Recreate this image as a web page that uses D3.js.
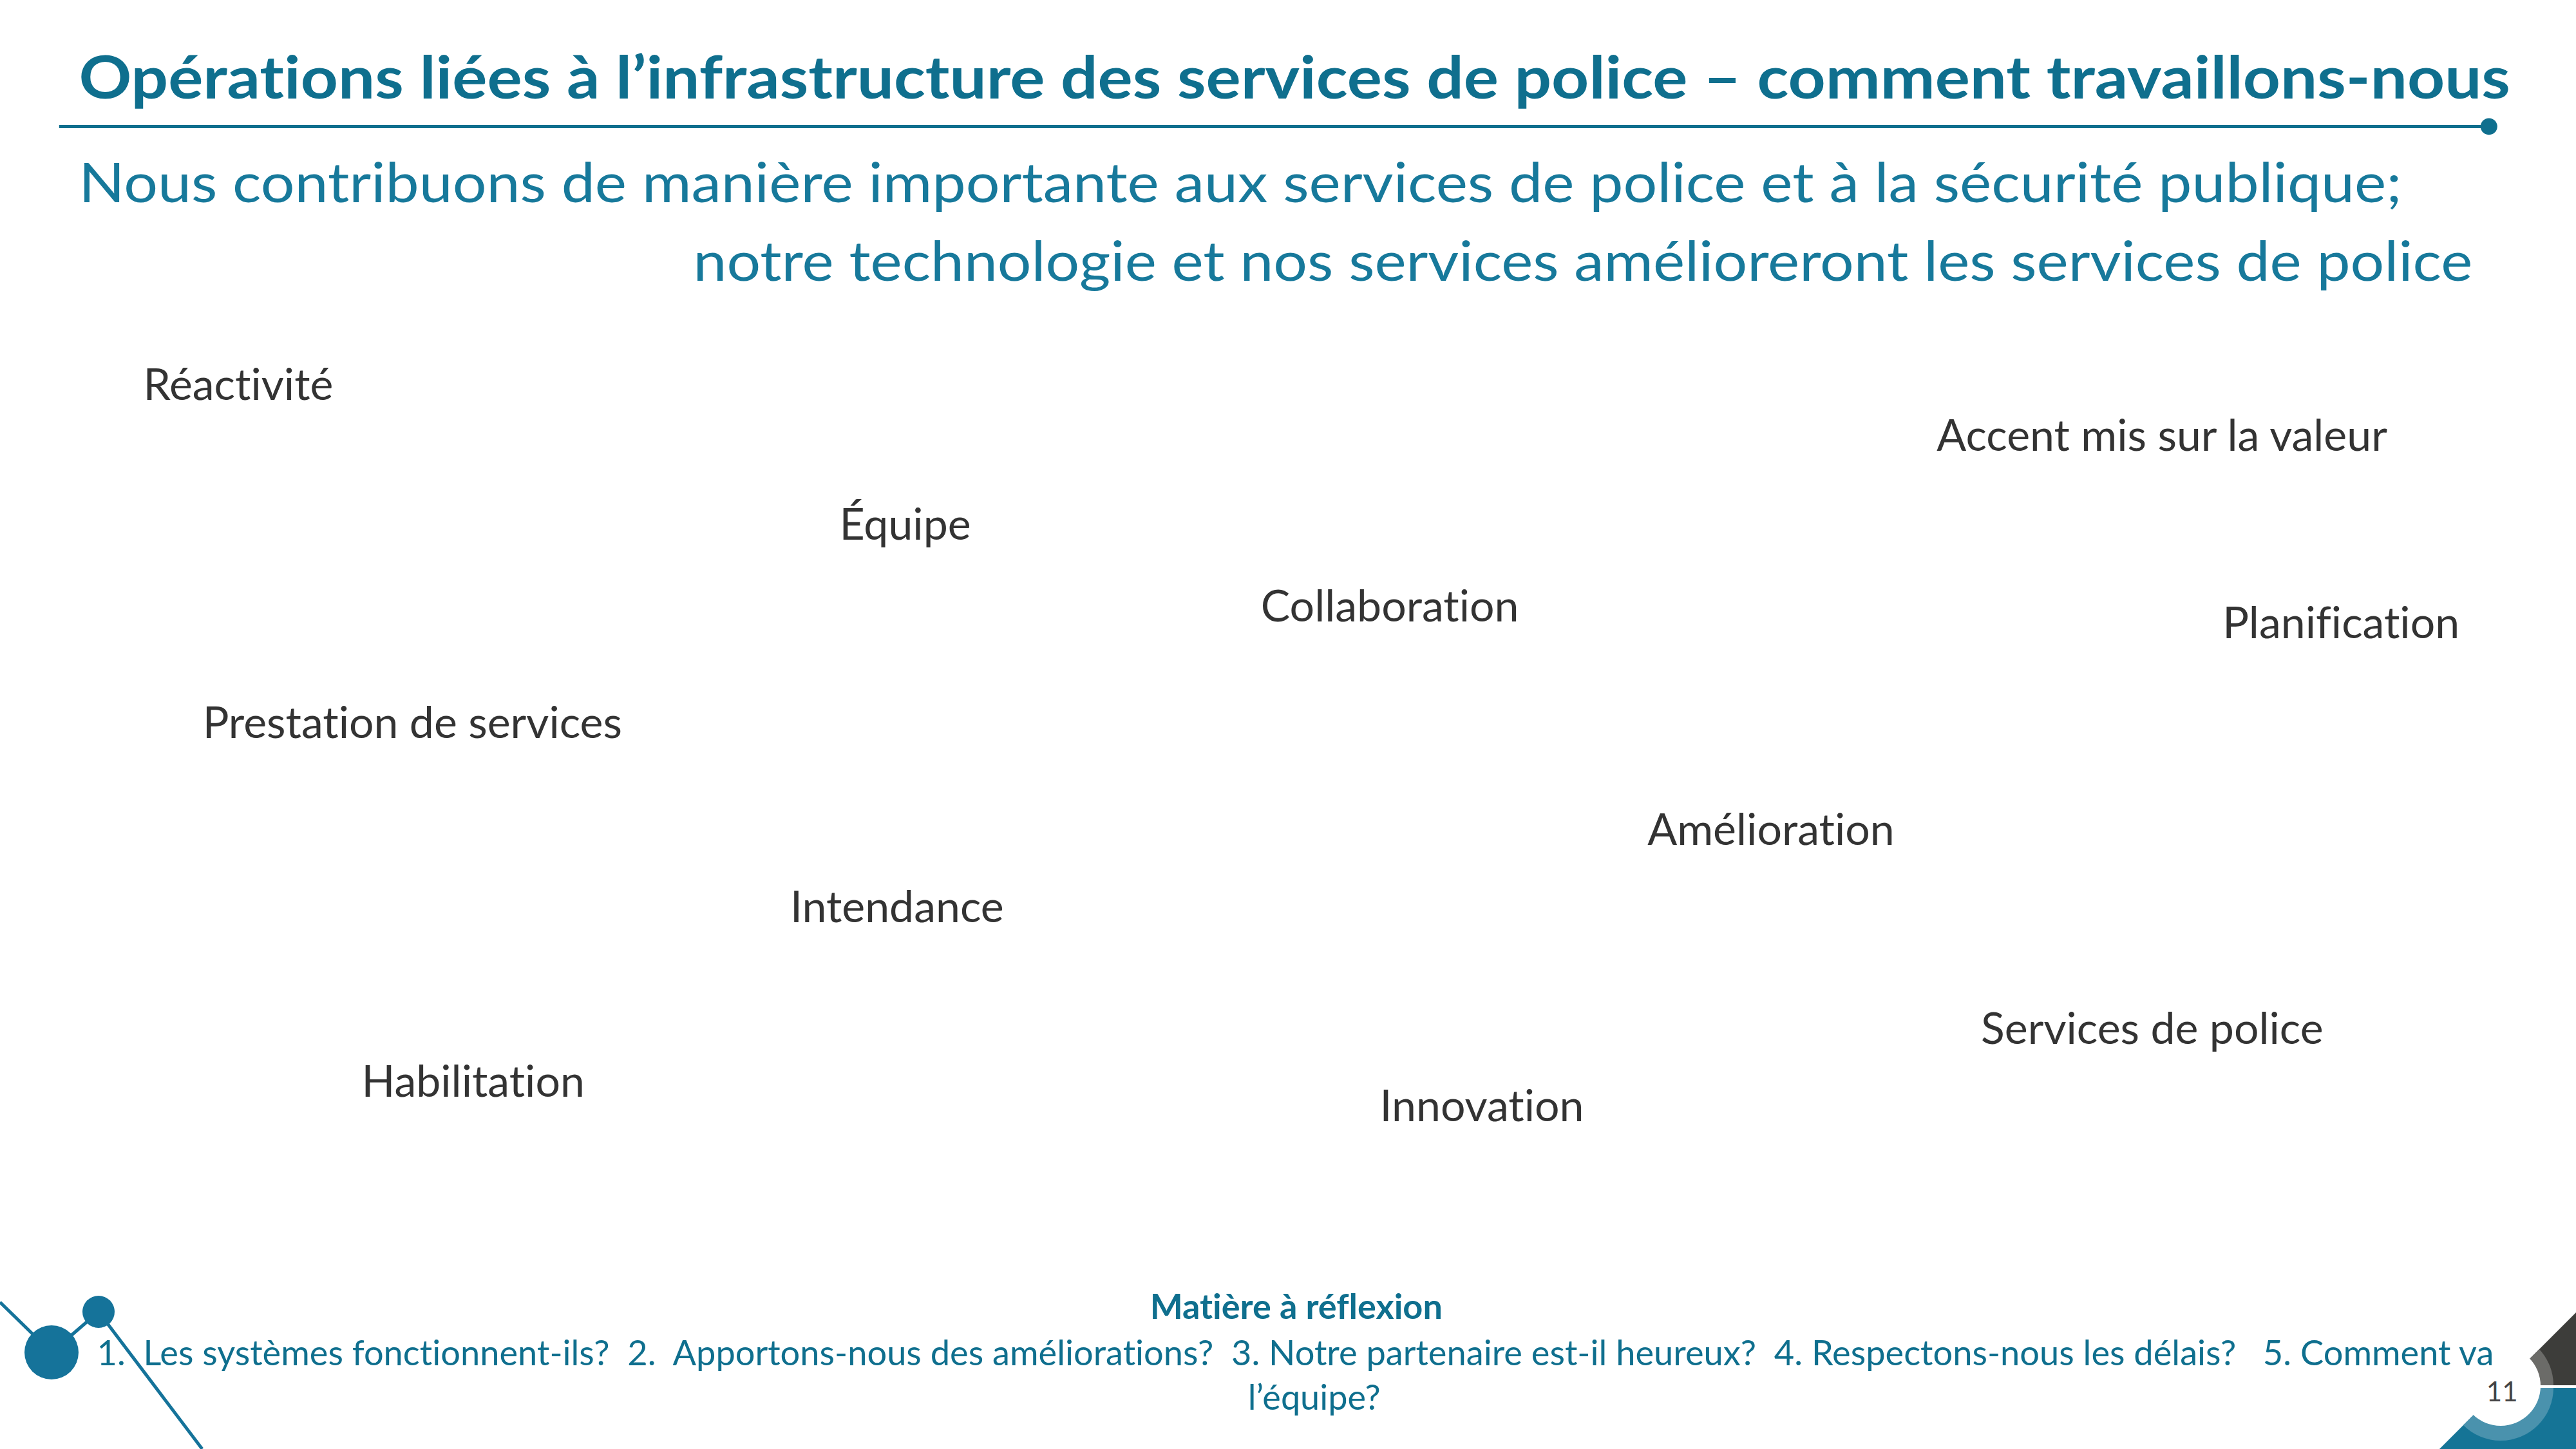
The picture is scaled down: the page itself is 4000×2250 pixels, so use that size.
<!DOCTYPE html>
<html><head><meta charset="utf-8">
<script src="https://cdn.jsdelivr.net/npm/d3@7"></script>
<style>body{margin:0;background:#fff}svg{display:block}text{white-space:pre;font-variant-ligatures:none}</style>
</head><body>
<svg id="chart" width="4000" height="2250"></svg>
<script>
// words of the cloud, positions (1568x882 units)
const words = ["Réactivité", "Accent mis sur la valeur", "Équipe", "Collaboration", "Planification",
    "Prestation de services", "Amélioration", "Intendance", "Services de police", "Habilitation", "Innovation"];
const wordX = [145, 1316, 551, 846, 1425, 251, 1078, 546, 1310, 288, 902];
const wordY = [233, 264, 318, 368, 378, 439, 504, 551, 625, 657, 672];

const title = "Opérations liées à l’infrastructure des services de police – comment travaillons-nous";
const subtitle = ["Nous contribuons de manière importante aux services de police et à la sécurité publique;",
    "notre technologie et nos services amélioreront les services de police"];
const footHead = "Matière à réflexion";
const footLines = ["1.  Les systèmes fonctionnent-ils?  2.  Apportons-nous des améliorations?  3. Notre partenaire est-il heureux?  4. Respectons-nous les délais?   5. Comment va",
    "l’équipe?"];

const svg = d3.select("#chart");
const x = d3.scaleLinear().domain([0, 1568]).range([0, 4000]);
const y = d3.scaleLinear().domain([0, 882]).range([0, 2250]);
const teal = "#0f6f8e", font = "Lato, 'Open Sans', sans-serif";

// header
svg.append("text").attr("x", x(48)).attr("y", y(60)).text(title)
    .attr("font-family", font).attr("font-weight", "bold").attr("font-size", 92).attr("fill", teal)
    .attr("textLength", x(1528) - x(48)).attr("lengthAdjust", "spacingAndGlyphs");
svg.append("line").attr("x1", x(36)).attr("x2", x(1515)).attr("y1", y(77)).attr("y2", y(77))
    .attr("stroke", teal).attr("stroke-width", 5);
svg.append("circle").attr("cx", x(1515)).attr("cy", y(77)).attr("r", 13).attr("fill", teal);
svg.append("text").attr("x", x(48)).attr("y", y(123)).text(subtitle[0])
    .attr("font-family", font).attr("font-size", 86).attr("fill", "#17799b")
    .attr("textLength", x(1462) - x(48)).attr("lengthAdjust", "spacingAndGlyphs");
svg.append("text").attr("x", x(422)).attr("y", y(171)).text(subtitle[1])
    .attr("font-family", font).attr("font-size", 86).attr("fill", "#17799b")
    .attr("textLength", x(1505) - x(422)).attr("lengthAdjust", "spacingAndGlyphs");

// word cloud
svg.selectAll("text.word").data(words).join("text").attr("class", "word")
    .attr("x", (d, i) => x(wordX[i])).attr("y", (d, i) => y(wordY[i]))
    .attr("text-anchor", "middle").attr("dominant-baseline", "central")
    .attr("font-family", font).attr("font-size", 68).attr("fill", "#333")
    .text(d => d);

// bottom-left ornament
const orn = svg.append("g").attr("stroke", "#15739a").attr("stroke-width", 5).attr("fill", "#15739a");
orn.append("polyline").attr("fill", "none").attr("points", "0,2022 80,2100 153,2037 314,2250");
orn.append("circle").attr("cx", 80).attr("cy", 2100).attr("r", 42).attr("stroke", "none");
orn.append("circle").attr("cx", 153).attr("cy", 2037).attr("r", 25).attr("stroke", "none");

// bottom-right corner
const defs = svg.append("defs");
defs.append("clipPath").attr("id", "tri").append("polygon").attr("points", "4000,2038 4000,2250 3788,2250");
const corner = svg.append("g").attr("clip-path", "url(#tri)");
corner.append("rect").attr("x", 3780).attr("y", 2030).attr("width", 220).attr("height", 121).attr("fill", "#3d3d3a");
corner.append("rect").attr("x", 3780).attr("y", 2155).attr("width", 220).attr("height", 95).attr("fill", "#157496");
corner.append("path").attr("d", d3.arc()({innerRadius: 0, outerRadius: 82, startAngle: -Math.PI / 2, endAngle: Math.PI / 2}))
    .attr("transform", "translate(3883,2151)").attr("fill", "#6b6b68");
corner.append("path").attr("d", d3.arc()({innerRadius: 0, outerRadius: 82, startAngle: Math.PI / 2, endAngle: Math.PI * 1.5}))
    .attr("transform", "translate(3883,2155)").attr("fill", "#4a92ad");
svg.append("circle").attr("cx", 3883).attr("cy", 2152).attr("r", 62).attr("fill", "#fff");
svg.append("text").attr("x", x(1523)).attr("y", y(853)).attr("text-anchor", "middle").text("11")
    .attr("font-family", font).attr("font-size", 42).attr("fill", "#444");

// footer
svg.append("text").attr("x", x(789)).attr("y", y(803)).attr("text-anchor", "middle").text(footHead)
    .attr("font-family", font).attr("font-weight", "bold").attr("font-size", 54).attr("fill", teal);
svg.append("text").attr("x", x(59)).attr("y", y(831)).text(footLines[0])
    .attr("font-family", font).attr("font-size", 54).attr("fill", teal)
    .attr("textLength", x(1518) - x(59)).attr("lengthAdjust", "spacingAndGlyphs");
svg.append("text").attr("x", x(800)).attr("y", y(858)).attr("text-anchor", "middle").text(footLines[1])
    .attr("font-family", font).attr("font-size", 54).attr("fill", teal);
</script>
</body></html>
